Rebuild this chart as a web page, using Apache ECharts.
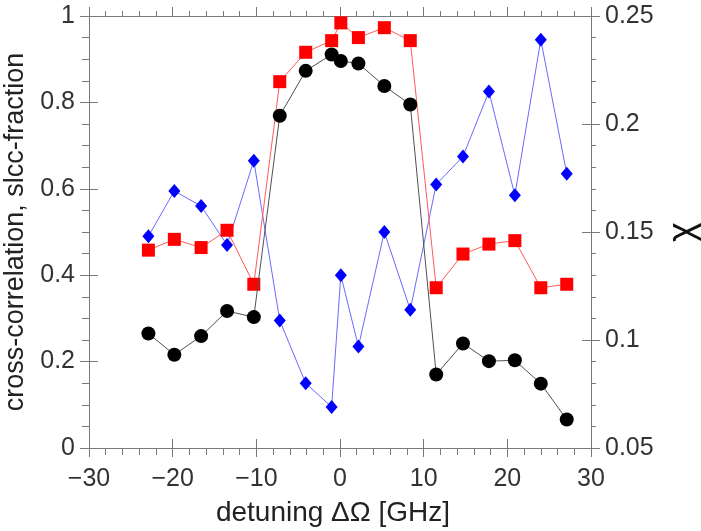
<!DOCTYPE html>
<html>
<head>
<meta charset="utf-8">
<script src="https://cdn.jsdelivr.net/npm/echarts@6/dist/echarts.min.js"></script>
<style>
html,body{margin:0;padding:0;background:#fff;}
#chart{width:701px;height:531px;}
</style>
</head>
<body>
<div id="chart"></div>
<script>
// ---- data ----
const detuning = [-22.9,-19.8,-16.6,-13.5,-10.3,-7.2,-4.1,-1.0,0.1,2.2,5.3,8.4,11.5,14.7,17.8,20.9,24.0,27.1];
const crossCorrelation = [0.265,0.216,0.259,0.317,0.303,0.769,0.873,0.911,0.896,0.890,0.838,0.795,0.170,0.242,0.201,0.203,0.149,0.066];
const slccFraction = [0.458,0.483,0.464,0.504,0.379,0.848,0.916,0.943,0.984,0.950,0.973,0.943,0.371,0.449,0.472,0.480,0.371,0.379];
const chi = [0.148,0.169,0.162,0.144,0.183,0.109,0.080,0.069,0.130,0.097,0.150,0.114,0.172,0.185,0.215,0.167,0.239,0.177];

const xRange = {min:-30, max:30, interval:10};
const yLeftRange = {min:0, max:1, interval:0.2};
const yRightRange = {min:0.05, max:0.25, interval:0.05};
const xName = 'detuning ΔΩ [GHz]';
const yLeftName = 'cross-correlation, slcc-fraction';
const yRightName = 'χ';

const FONT = '"Liberation Sans", Arial, sans-serif';
const AX = '#7a7a7a';
const TXT = '#333';

const pair = (xs, ys) => xs.map((x, i) => [x, ys[i]]);
const minus = v => String(v).replace('-', '\u2212');

const chart = echarts.init(document.getElementById('chart'), null, {renderer:'canvas'});
const baseX = Object.assign({type:'value', gridIndex:0, splitLine:{show:false}}, xRange);
const baseYL = Object.assign({type:'value', splitLine:{show:false}}, yLeftRange);
const baseYR = Object.assign({type:'value', splitLine:{show:false}}, yRightRange);

chart.setOption({
  animation:false,
  backgroundColor:'#fff',
  grid:{left:89, top:16, width:502, height:432, containLabel:false, outerBoundsMode:'none'},
  xAxis:[
    Object.assign({}, baseX, {
      position:'bottom',
      axisLine:{show:true, onZero:false, lineStyle:{color:AX, width:1}},
      axisTick:{show:true, inside:false, length:9, lineStyle:{color:AX}},
      minorTick:{show:true, splitNumber:5, length:7, lineStyle:{color:AX}},
      axisLabel:{show:true, margin:19, fontSize:25, color:TXT, fontFamily:FONT, formatter:minus},
      name:xName, nameLocation:'middle', nameGap:51,
      nameTextStyle:{fontSize:28, color:'#222', fontFamily:FONT, padding:[0,14,0,0]}
    }),
    Object.assign({}, baseX, {
      position:'bottom',
      axisLine:{show:false, onZero:false},
      axisTick:{show:true, inside:true, length:9, lineStyle:{color:AX}},
      axisLabel:{show:false}
    }),
    Object.assign({}, baseX, {
      position:'top',
      axisLine:{show:true, onZero:false, lineStyle:{color:AX, width:1}},
      axisTick:{show:true, inside:false, length:9, lineStyle:{color:AX}},
      minorTick:{show:true, splitNumber:5, length:5, lineStyle:{color:AX}},
      axisLabel:{show:false}
    })
  ],
  yAxis:[
    Object.assign({}, baseYL, {
      position:'left',
      axisLine:{show:true, onZero:false, lineStyle:{color:AX, width:1}},
      axisTick:{show:true, inside:false, length:9, lineStyle:{color:AX}},
      minorTick:{show:true, splitNumber:4, length:7, lineStyle:{color:AX}},
      axisLabel:{show:true, margin:14, fontSize:25, color:TXT, fontFamily:FONT},
      name:yLeftName, nameLocation:'middle', nameGap:46, nameRotate:90,
      nameTextStyle:{fontSize:27, color:'#222', fontFamily:FONT}
    }),
    Object.assign({}, baseYL, {
      position:'left',
      axisLine:{show:false, onZero:false},
      axisTick:{show:true, inside:true, length:9, lineStyle:{color:AX}},
      axisLabel:{show:false}
    }),
    Object.assign({}, baseYR, {
      position:'right',
      axisLine:{show:true, onZero:false, lineStyle:{color:AX, width:1}},
      axisTick:{show:true, inside:false, length:9, lineStyle:{color:AX}},
      minorTick:{show:true, splitNumber:5, length:5, lineStyle:{color:AX}},
      axisLabel:{show:true, margin:14, fontSize:25, color:TXT, fontFamily:FONT},
      name:yRightName, nameLocation:'middle', nameGap:72, nameRotate:90,
      nameTextStyle:{fontSize:38, color:'#111', fontFamily:FONT}
    }),
    Object.assign({}, baseYR, {
      position:'right',
      axisLine:{show:false, onZero:false},
      axisTick:{show:true, inside:true, length:9, lineStyle:{color:AX}},
      axisLabel:{show:false}
    })
  ],
  series:[
    {
      name:'chi', type:'line', xAxisIndex:0, yAxisIndex:2,
      data:pair(detuning, chi),
      symbol:'diamond', symbolSize:[12,14],
      itemStyle:{color:'#0000ff'},
      lineStyle:{color:'#6a6aff', width:1},
      z:2
    },
    {
      name:'slcc-fraction', type:'line', xAxisIndex:0, yAxisIndex:0,
      data:pair(detuning, slccFraction),
      symbol:'rect', symbolSize:13,
      itemStyle:{color:'#ff0000'},
      lineStyle:{color:'#ff5a5a', width:1},
      z:3
    },
    {
      name:'cross-correlation', type:'line', xAxisIndex:0, yAxisIndex:0,
      data:pair(detuning, crossCorrelation),
      symbol:'circle', symbolSize:14,
      itemStyle:{color:'#000000'},
      lineStyle:{color:'#505050', width:1},
      z:4
    }
  ]
});
</script>
</body>
</html>
